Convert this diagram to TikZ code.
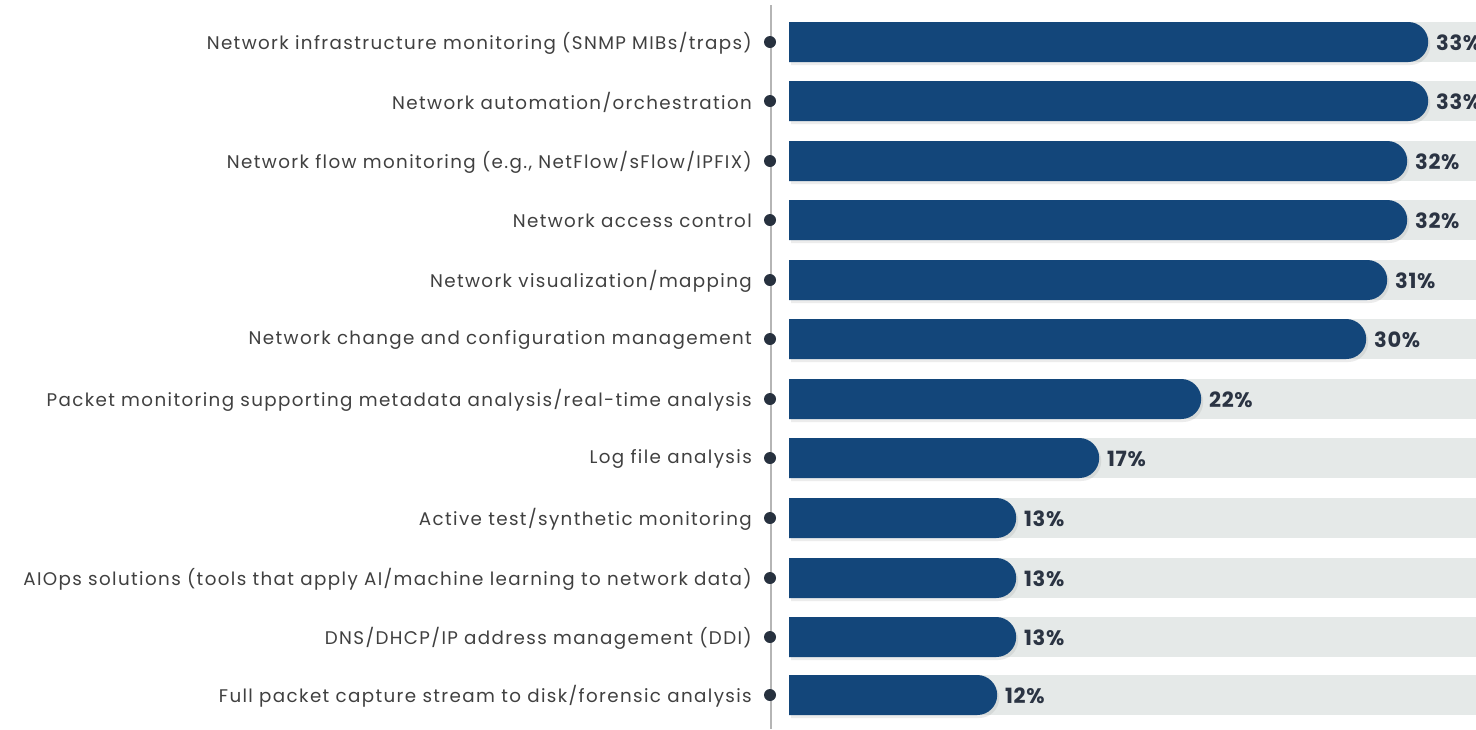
\documentclass[tikz,border=0pt]{standalone}
\usepackage{fontspec}
\setmainfont{Poppins}
\newfontfamily\labfont{Poppins}[LetterSpace=7.5]
\newfontfamily\pctfont{Poppins}[LetterSpace=3]
\usetikzlibrary{shapes.misc,shadows}
\definecolor{barblue}{HTML}{13467A}
\definecolor{bargray}{HTML}{E5E9E8}
\definecolor{dotc}{HTML}{27313F}
\definecolor{axisc}{HTML}{B5B5B5}
\definecolor{labc}{HTML}{404040}
\definecolor{pctc}{HTML}{2B3443}
\tikzset{
  bgbar/.style={fill=bargray, draw=none},
  bluebar/.style={rounded rectangle, rounded rectangle west arc=none, fill=barblue, draw=none,
     minimum height=40pt, inner sep=0pt, anchor=west,
     drop shadow={opacity=0.15, shadow xshift=2pt, shadow yshift=-3pt}},
  lab/.style={anchor=east, text=labc, font=\labfont\fontsize{18.3}{21}\selectfont, inner sep=0pt},
  pct/.style={anchor=west, text=pctc, font=\pctfont\fontsize{21}{24}\selectfont\bfseries, inner sep=0pt},
  dot/.style={circle, fill=dotc, minimum size=12pt, inner sep=0pt},
}
\begin{document}
\begin{tikzpicture}[x=1pt,y=-1pt]
\useasboundingbox (0,0) rectangle (1476,729);
\fill[white] (0,0) rectangle (1476,729);
\coordinate (axtop) at (771,5);
\coordinate (axbot) at (771,729);
\draw[axisc, line width=2pt] (axtop) -- (axbot);
\foreach \i/\y/\xe/\p/\t in {
 1/42/1428/33/{Network infrastructure monitoring (SNMP MIBs/traps)},
 2/101/1428/33/{Network automation/orchestration},
 3/161/1407/32/{Network flow monitoring (e.g., NetFlow/sFlow/IPFIX)},
 4/220/1407/32/{Network access control},
 5/280/1387/31/{Network visualization/mapping},
 6/339/1366/30/{Network change and configuration management},
 7/399/1201/22/{Packet monitoring supporting metadata analysis/real-time analysis},
 8/458/1099/17/{Log file analysis},
 9/518/1016/13/{Active test/synthetic monitoring},
 10/578/1016/13/{AIOps solutions (tools that apply AI/machine learning to network data)},
 11/637/1016/13/{DNS/DHCP/IP address management (DDI)},
 12/695/997/12/{Full packet capture stream to disk/forensic analysis}}{
  \fill[bgbar] (789,\y-20) rectangle (1476,\y+20);
  \pgfmathsetmacro{\w}{\xe-789}
  \node[bluebar, minimum width=\w pt] (bar\i) at (789,\y) {};
  \node[dot] (dot\i) at (770,\y) {};
  \node[lab] (lab\i) at (752,\y+1) {\t};
  \node[pct] (pct\i) at (\xe+8,\y+1) {\p\%};
}
\end{tikzpicture}
\end{document}
